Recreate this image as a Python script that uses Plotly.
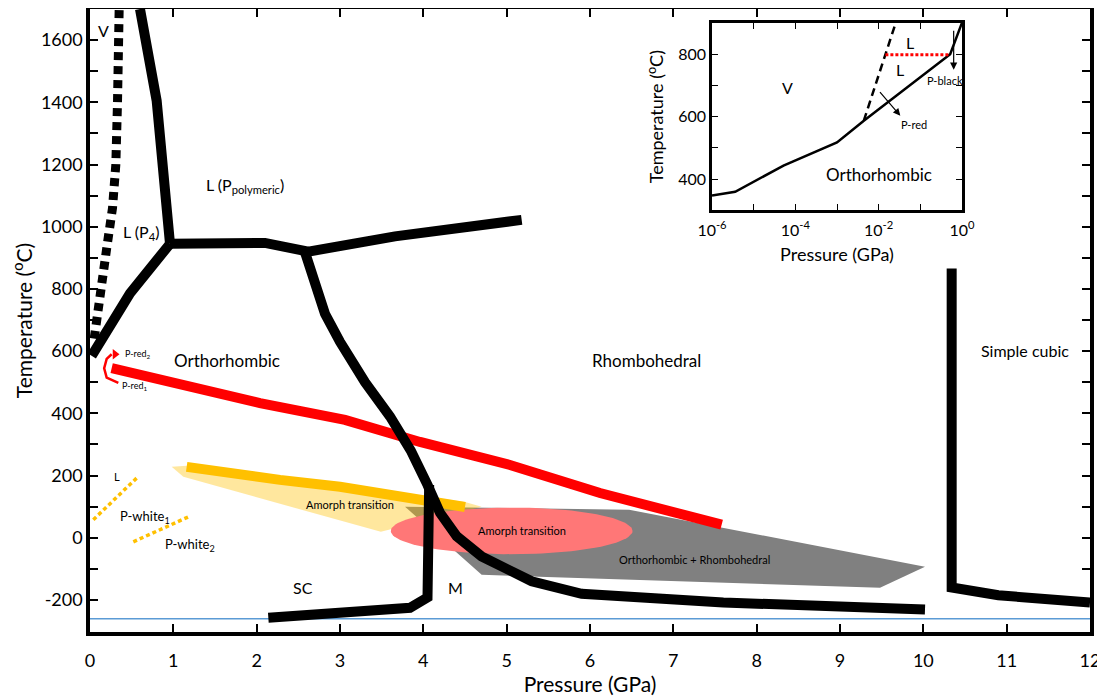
import numpy as np
import plotly.graph_objects as go

FONT = "Lato"

# ---------------- main diagram data (P in GPa, T in degC) ----------------
melt_low_P = [0.02, 0.48, 0.96]
melt_low_T = [585, 786, 945]
melt_up_P = [0.96, 0.88, 0.80, 0.60]
melt_up_T = [945, 1190, 1405, 1700]
liq_rh_P = [0.96, 2.10, 2.62, 3.66, 5.18]
liq_rh_T = [945, 948, 920, 969, 1022]
orth_rh_P = [2.58, 2.72, 2.82, 3.0, 3.3, 3.6, 3.85, 4.05, 4.2, 4.4, 4.7, 5.0, 5.3, 5.9, 7.6, 10.02]
orth_rh_T = [918, 800, 720, 630, 500, 390, 280, 170, 80, 5, -60, -100, -140, -180, -208, -231]
sc_m_P = [4.07, 4.05, 3.84, 2.14]
sc_m_T = [170, -192, -225, -257]
scub_P = [10.34, 10.34, 10.9, 12.0]
scub_T = [866, -160, -185, -208]
vap_P = [0.05, 0.12, 0.20, 0.27, 0.31, 0.33, 0.35]
vap_T = [640, 800, 930, 1060, 1200, 1400, 1700]
red_P = [0.26, 2.04, 3.06, 3.96, 5.04, 6.12, 7.58]
red_T = [545, 433, 379, 308, 234, 144, 42]
redarrow_P = [0.34, 0.20, 0.17, 0.20, 0.26]
redarrow_T = [498, 515, 545, 575, 590]
redhead_P = [0.30]
redhead_T = [590]
orange_P = [1.16, 1.88, 2.28, 3.0, 4.5]
orange_T = [228, 196, 186, 164, 99]
yellow_P = [0.98, 1.30, 4.50, 4.70, 3.49, 1.12]
yellow_T = [228, 234, 115, 100, 19, 196]
gray_P = [3.78, 6.47, 10.02, 9.48, 4.70]
gray_T = [100, 90, -93, -161, -119]
ellipse_center = (5.06, 22)
ellipse_radii = (1.45, 75)
white1_P = [0.04, 0.56]
white1_T = [58, 192]
white2_P = [0.52, 1.18]
white2_T = [-13, 67]
zero_line_P = [0, 12]
zero_line_T = [-260, -260]

x_ticks = list(range(0, 13))
y_tickvals = list(range(-200, 1700, 100))
y_ticktext = [str(v) if v % 200 == 0 else "" for v in y_tickvals]

labels_text = ["V", "L (P<sub>4</sub>)", "L (P<sub>polymeric</sub>)", "Orthorhombic", "Rhombohedral",
               "Simple cubic", "L", "P-white<sub>1</sub>", "P-white<sub>2</sub>", "Amorph transition",
               "Amorph transition", "Orthorhombic + Rhombohedral", "SC", "M"]
labels_P = [0.16, 0.62, 1.86, 1.64, 6.68, 11.22, 0.32, 0.66, 1.2, 3.12, 5.18, 7.25, 2.56, 4.39]
labels_T = [1630, 982, 1133, 571, 571, 603, 196, 67, -22, 106, 22, -70, -160, -160]
labels_size = [16, 16, 16, 17, 17, 16, 11, 13, 13, 11, 11, 11, 16, 16]

# ---------------- inset data (P in GPa on log axis, T in degC) ----------------
in_solid_P = [1e-6, 3.6e-6, 5.2e-5, 1e-3, 4.4e-3, 0.52, 1.0]
in_solid_T = [347, 359, 443, 517, 587, 800, 901]
in_dash_P = [4.4e-3, 2.5e-2]
in_dash_T = [587, 896]
in_red_P = [1.45e-2, 0.52]
in_red_T = [798, 798]
in_xtickvals = [1e-6, 1e-5, 1e-4, 1e-3, 1e-2, 1e-1, 1]
in_xticktext = ["10<sup>-6</sup>", "", "10<sup>-4</sup>", "", "10<sup>-2</sup>", "", "10<sup>0</sup>"]
in_ytickvals = [400, 500, 600, 700, 800]
in_yticktext = ["400", "", "600", "", "800"]
in_labels_text = ["L", "L", "V", "P-black", "P-red", "Orthorhombic"]
in_labels_logP = [-1.24, -1.48, -4.2, -0.42, -1.16, -2.0]
in_labels_T = [837, 752, 693, 715, 576, 416]
in_labels_size = [16, 16, 16, 11, 11, 17]

fig = go.Figure()

def line(P, T, color="black", width=10, dash=None, xa="x", ya="y"):
    fig.add_trace(go.Scatter(x=P, y=T, mode="lines", xaxis=xa, yaxis=ya,
                             line=dict(color=color, width=width, dash=dash),
                             hoverinfo="skip", showlegend=False))

# filled regions
fig.add_trace(go.Scatter(x=gray_P + [gray_P[0]], y=gray_T + [gray_T[0]], fill="toself",
                         fillcolor="#808080", mode="lines", line=dict(width=0),
                         hoverinfo="skip", showlegend=False))
fig.add_trace(go.Scatter(x=yellow_P + [yellow_P[0]], y=yellow_T + [yellow_T[0]], fill="toself",
                         fillcolor="rgba(255,192,0,0.38)", mode="lines", line=dict(width=0),
                         hoverinfo="skip", showlegend=False))
th = np.linspace(0, 2 * np.pi, 120)
fig.add_trace(go.Scatter(x=ellipse_center[0] + ellipse_radii[0] * np.cos(th),
                         y=ellipse_center[1] + ellipse_radii[1] * np.sin(th), fill="toself",
                         fillcolor="#FF7777", mode="lines", line=dict(width=0),
                         hoverinfo="skip", showlegend=False))

line(zero_line_P, zero_line_T, color="#5B9BD5", width=1.5)
line(orange_P, orange_T, color="#FFC000", width=10)
line(red_P, red_T, color="#FF0000", width=10)
line(white1_P, white1_T, color="#FFC000", width=3.5, dash="4px,3px")
line(white2_P, white2_T, color="#FFC000", width=3.5, dash="4px,3px")
line(redarrow_P, redarrow_T, color="#FF0000", width=2.5)
fig.add_trace(go.Scatter(x=redhead_P, y=redhead_T, mode="markers",
                         marker=dict(symbol="triangle-right", size=9, color="#FF0000"),
                         hoverinfo="skip", showlegend=False))
line(vap_P, vap_T, width=9, dash="8px,6px")
line(melt_low_P, melt_low_T)
line(melt_up_P, melt_up_T)
line(liq_rh_P, liq_rh_T)
line(orth_rh_P, orth_rh_T)
line(sc_m_P, sc_m_T)
line(scub_P, scub_T)

# inset traces
line(in_solid_P, in_solid_T, width=2.5, xa="x2", ya="y2")
line(in_dash_P, in_dash_T, width=2.5, dash="8px,5px", xa="x2", ya="y2")
line(in_red_P, in_red_T, color="#FF0000", width=3, dash="3px,2px", xa="x2", ya="y2")

ann = []
for t, p, T, s in zip(labels_text, labels_P, labels_T, labels_size):
    ann.append(dict(x=p, y=T, xref="x", yref="y", text=t, showarrow=False,
                    font=dict(family=FONT, size=s, color="black")))
ann.append(dict(x=0.40, y=592, xref="x", yref="y", text="P-red<sub>2</sub>", showarrow=False,
                xanchor="left", font=dict(family=FONT, size=9, color="black")))
ann.append(dict(x=0.36, y=488, xref="x", yref="y", text="P-red<sub>1</sub>", showarrow=False,
                xanchor="left", font=dict(family=FONT, size=9, color="black")))
for t, p, T, s in zip(in_labels_text, in_labels_logP, in_labels_T, in_labels_size):
    ann.append(dict(x=p, y=T, xref="x2", yref="y2", text=t, showarrow=False,
                    font=dict(family=FONT, size=s, color="black")))
ann.append(dict(x=-1.48, y=603, ax=-2.0, ay=683, xref="x2", yref="y2", axref="x2", ayref="y2",
                showarrow=True, arrowhead=2, arrowsize=1.2, arrowwidth=1.2, arrowcolor="black", text=""))
ann.append(dict(x=-0.2, y=750, ax=-0.2, ay=880, xref="x2", yref="y2", axref="x2", ayref="y2",
                showarrow=True, arrowhead=2, arrowsize=1.2, arrowwidth=1.2, arrowcolor="black", text=""))

axis_common = dict(showline=True, linecolor="black", mirror="ticks", ticks="inside",
                   tickcolor="black", showgrid=False, zeroline=False)

fig.update_layout(
    width=1097, height=688,
    margin=dict(l=82, r=15, t=1, b=64, autoexpand=False),
    paper_bgcolor="white", plot_bgcolor="white",
    font=dict(family=FONT, color="black"),
    annotations=ann,
    xaxis=dict(range=[0, 12], tickvals=x_ticks, linewidth=3.5, ticklen=8, tickwidth=1.5,
               tickfont=dict(size=18), ticklabelstandoff=10, ticklabeloverflow="allow",
               title=dict(text="Pressure (GPa)", font=dict(size=21), standoff=8),
               **axis_common),
    yaxis=dict(range=[-303, 1700], tickvals=y_tickvals, ticktext=y_ticktext, linewidth=3.5,
               ticklen=8, tickwidth=1.5, tickfont=dict(size=18),
               title=dict(text="Temperature (<sup>o</sup>C)", font=dict(size=21), standoff=10),
               **axis_common),
    xaxis2=dict(type="log", range=[-6, 0], domain=[0.622, 0.872], anchor="y2",
                tickvals=in_xtickvals, ticktext=in_xticktext, linewidth=2.5, ticklen=6, tickwidth=1.2,
                tickfont=dict(size=16), ticklabelstandoff=4,
                title=dict(text="Pressure (GPa)", font=dict(size=18), standoff=11),
                **axis_common),
    yaxis2=dict(range=[300, 900], domain=[0.677, 0.9775], anchor="x2",
                tickvals=in_ytickvals, ticktext=in_yticktext, linewidth=2.5, ticklen=6, tickwidth=1.2,
                tickfont=dict(size=16),
                title=dict(text="Temperature (<sup>o</sup>C)", font=dict(size=18), standoff=10),
                **axis_common),
)

fig.write_html("out.html")
